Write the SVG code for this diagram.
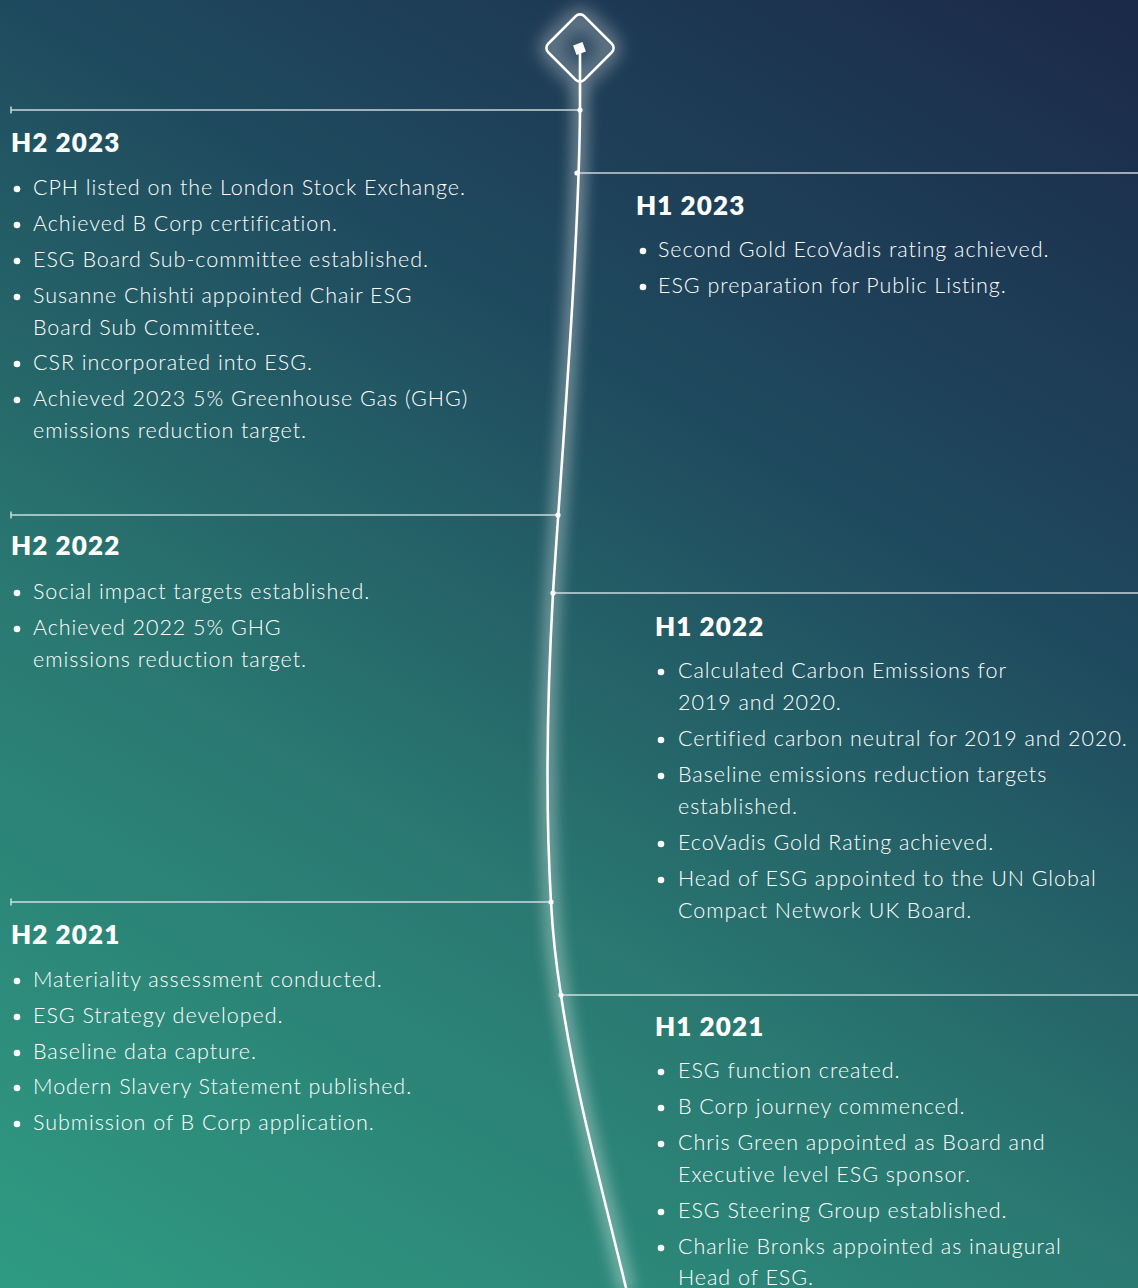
<svg xmlns="http://www.w3.org/2000/svg" width="1138" height="1288" viewBox="0 0 1138 1288">
  <defs>
    <linearGradient id="bg" gradientUnits="userSpaceOnUse" x1="1000" y1="-100" x2="100" y2="1400">
      <stop offset="0" stop-color="#1b2848"/>
      <stop offset="0.34" stop-color="#1f4a5e"/>
      <stop offset="0.64" stop-color="#2a7a72"/>
      <stop offset="0.97" stop-color="#2f9a82"/>
    </linearGradient>
    <filter id="glow" x="-50%" y="-20%" width="200%" height="140%">
      <feGaussianBlur stdDeviation="7"/>
    </filter>
    <filter id="halo" filterUnits="userSpaceOnUse" x="480" y="-60" width="200" height="220">
      <feGaussianBlur stdDeviation="9"/>
    </filter>
    <style>
      .head { font-family: "Lato", "Liberation Sans", sans-serif; font-weight: 800; font-size: 26px; fill: #ffffff; letter-spacing: 1.1px; }
      .item { font-family: "Lato", "Liberation Sans", sans-serif; font-weight: 300; font-size: 21.5px; fill: #ffffff; letter-spacing: 0.95px; }
      .rule { stroke: #e6eef0; stroke-width: 1.5; fill: none; opacity: 0.85; }
      .dot { fill: #ffffff; }
      .joint { fill: #ffffff; }
    </style>
  </defs>

  <rect width="1138" height="1288" fill="url(#bg)"/>

  <!-- timeline spine, glow + line -->
  <g id="connectors">
    <path d="M580,84 L580,110 C579,250 560,480 553,593 C547,700 545,800 551,902 C553,940 557,970 561,995 C575,1090 600,1180 627,1292" fill="none" stroke="#ffffff" stroke-width="16" opacity="0.35" filter="url(#glow)"/>
    <path d="M580,84 L580,110 C579,250 560,480 553,593 C547,700 545,800 551,902 C553,940 557,970 561,995 C575,1090 600,1180 627,1292" fill="none" stroke="#ffffff" stroke-width="2.6"/>
    <line x1="580" y1="52" x2="580" y2="84" stroke="#ffffff" stroke-width="2.6"/>

    <!-- branch rules -->
    <path class="rule" d="M11,110 H580 M11,106.5 V113.5"/>
    <path class="rule" d="M577,173 H1138"/>
    <path class="rule" d="M11,515 H558 M11,511.5 V518.5"/>
    <path class="rule" d="M553,593 H1138"/>
    <path class="rule" d="M11,902 H551 M11,898.5 V905.5"/>
    <path class="rule" d="M561,995 H1138"/>

    <circle class="joint" cx="580" cy="110" r="2.6"/>
    <circle class="joint" cx="577" cy="173" r="2.6"/>
    <circle class="joint" cx="558" cy="515" r="2.6"/>
    <circle class="joint" cx="553" cy="593" r="2.6"/>
    <circle class="joint" cx="551" cy="902" r="2.6"/>
    <circle class="joint" cx="561" cy="995" r="2.6"/>
  </g>

  <!-- start marker -->
  <g id="start-marker">
    <rect x="554.5" y="22.5" width="51" height="51" rx="8" transform="rotate(45 580 48)" fill="#ffffff" fill-opacity="0.1" stroke="#ffffff" stroke-width="12" stroke-opacity="0.4" filter="url(#halo)"/>
    <rect x="554.5" y="22.5" width="51" height="51" rx="6" transform="rotate(45 580 48)" fill="none" stroke="#ffffff" stroke-width="2.6"/>
    <rect x="574.5" y="43.5" width="10" height="10" transform="rotate(-20 579.5 48.5)" fill="#ffffff"/>
  </g>

  <g id="h2-2023">
    <text class="head" x="11" y="152">H2 2023</text>
    <circle class="dot" cx="17" cy="189" r="3.3"/>
    <text class="item" x="33" y="195">CPH listed on the London Stock Exchange.</text>
    <circle class="dot" cx="17" cy="225" r="3.3"/>
    <text class="item" x="33" y="231">Achieved B Corp certification.</text>
    <circle class="dot" cx="17" cy="261" r="3.3"/>
    <text class="item" x="33" y="267">ESG Board Sub-committee established.</text>
    <circle class="dot" cx="17" cy="297" r="3.3"/>
    <text class="item" x="33" y="303">Susanne Chishti appointed Chair ESG</text>
    <text class="item" x="33" y="335">Board Sub Committee.</text>
    <circle class="dot" cx="17" cy="364" r="3.3"/>
    <text class="item" x="33" y="370">CSR incorporated into ESG.</text>
    <circle class="dot" cx="17" cy="400" r="3.3"/>
    <text class="item" x="33" y="406">Achieved 2023 5% Greenhouse Gas (GHG)</text>
    <text class="item" x="33" y="438">emissions reduction target.</text>
  </g>

  <g id="h1-2023">
    <text class="head" x="636" y="215">H1 2023</text>
    <circle class="dot" cx="643" cy="251" r="3.3"/>
    <text class="item" x="658" y="257">Second Gold EcoVadis rating achieved.</text>
    <circle class="dot" cx="643" cy="287" r="3.3"/>
    <text class="item" x="658" y="293">ESG preparation for Public Listing.</text>
  </g>

  <g id="h2-2022">
    <text class="head" x="11" y="555">H2 2022</text>
    <circle class="dot" cx="17" cy="593" r="3.3"/>
    <text class="item" x="33" y="599">Social impact targets established.</text>
    <circle class="dot" cx="17" cy="629" r="3.3"/>
    <text class="item" x="33" y="635">Achieved 2022 5% GHG</text>
    <text class="item" x="33" y="667">emissions reduction target.</text>
  </g>

  <g id="h1-2022">
    <text class="head" x="655" y="636">H1 2022</text>
    <circle class="dot" cx="661" cy="672" r="3.3"/>
    <text class="item" x="678" y="678">Calculated Carbon Emissions for</text>
    <text class="item" x="678" y="710">2019 and 2020.</text>
    <circle class="dot" cx="661" cy="740" r="3.3"/>
    <text class="item" x="678" y="746">Certified carbon neutral for 2019 and 2020.</text>
    <circle class="dot" cx="661" cy="776" r="3.3"/>
    <text class="item" x="678" y="782">Baseline emissions reduction targets</text>
    <text class="item" x="678" y="814">established.</text>
    <circle class="dot" cx="661" cy="844" r="3.3"/>
    <text class="item" x="678" y="850">EcoVadis Gold Rating achieved.</text>
    <circle class="dot" cx="661" cy="880" r="3.3"/>
    <text class="item" x="678" y="886">Head of ESG appointed to the UN Global</text>
    <text class="item" x="678" y="918">Compact Network UK Board.</text>
  </g>

  <g id="h2-2021">
    <text class="head" x="11" y="944">H2 2021</text>
    <circle class="dot" cx="17" cy="981" r="3.3"/>
    <text class="item" x="33" y="987">Materiality assessment conducted.</text>
    <circle class="dot" cx="17" cy="1017" r="3.3"/>
    <text class="item" x="33" y="1023">ESG Strategy developed.</text>
    <circle class="dot" cx="17" cy="1053" r="3.3"/>
    <text class="item" x="33" y="1059">Baseline data capture.</text>
    <circle class="dot" cx="17" cy="1088" r="3.3"/>
    <text class="item" x="33" y="1094">Modern Slavery Statement published.</text>
    <circle class="dot" cx="17" cy="1124" r="3.3"/>
    <text class="item" x="33" y="1130">Submission of B Corp application.</text>
  </g>

  <g id="h1-2021">
    <text class="head" x="655" y="1036">H1 2021</text>
    <circle class="dot" cx="661" cy="1072" r="3.3"/>
    <text class="item" x="678" y="1078">ESG function created.</text>
    <circle class="dot" cx="661" cy="1108" r="3.3"/>
    <text class="item" x="678" y="1114">B Corp journey commenced.</text>
    <circle class="dot" cx="661" cy="1144" r="3.3"/>
    <text class="item" x="678" y="1150">Chris Green appointed as Board and</text>
    <text class="item" x="678" y="1182">Executive level ESG sponsor.</text>
    <circle class="dot" cx="661" cy="1212" r="3.3"/>
    <text class="item" x="678" y="1218">ESG Steering Group established.</text>
    <circle class="dot" cx="661" cy="1248" r="3.3"/>
    <text class="item" x="678" y="1254">Charlie Bronks appointed as inaugural</text>
    <text class="item" x="678" y="1285">Head of ESG.</text>
  </g>
</svg>
